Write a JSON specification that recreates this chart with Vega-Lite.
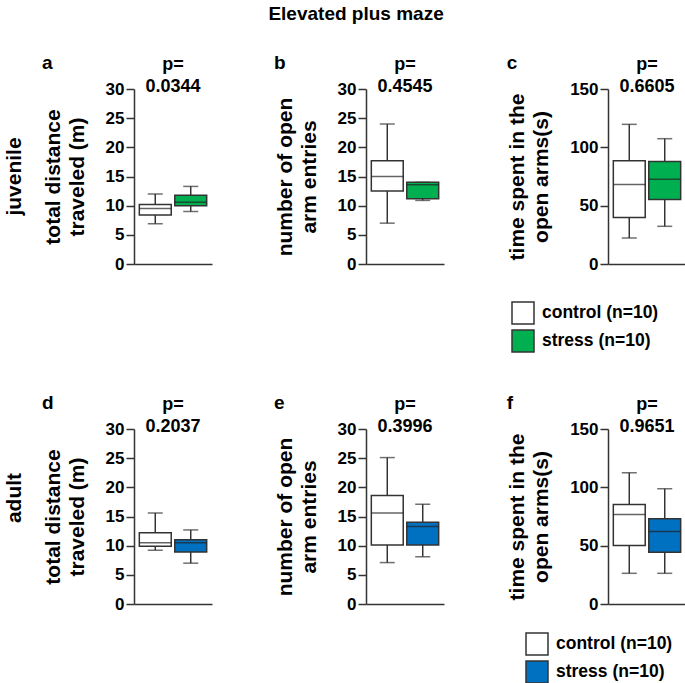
{
  "$schema": "https://vega.github.io/schema/vega-lite/v6.json",
  "padding": {"left": 4, "top": 5, "right": 1, "bottom": 0},
  "datasets": {
    "box": [
      {"panel": "a", "group": "control", "min": 6.9, "q1": 8.4, "median": 9.5, "q3": 10.2, "max": 12.0},
      {"panel": "a", "group": "stress", "min": 9.0, "q1": 10.0, "median": 10.6, "q3": 11.8, "max": 13.3},
      {"panel": "b", "group": "control", "min": 7.0, "q1": 12.5, "median": 15.0, "q3": 17.7, "max": 24.0},
      {"panel": "b", "group": "stress", "min": 10.9, "q1": 11.2, "median": 13.6, "q3": 14.0, "max": 14.0},
      {"panel": "c", "group": "control", "min": 22.3, "q1": 39.8, "median": 68.1, "q3": 88.5, "max": 119.7},
      {"panel": "c", "group": "stress", "min": 32.3, "q1": 55.3, "median": 72.7, "q3": 87.9, "max": 107.4},
      {"panel": "d", "group": "control", "min": 9.2, "q1": 9.9, "median": 10.5, "q3": 12.2, "max": 15.6},
      {"panel": "d", "group": "stress", "min": 7.0, "q1": 8.9, "median": 10.5, "q3": 11.0, "max": 12.7},
      {"panel": "e", "group": "control", "min": 7.1, "q1": 10.1, "median": 15.6, "q3": 18.6, "max": 25.1},
      {"panel": "e", "group": "stress", "min": 8.1, "q1": 10.1, "median": 13.3, "q3": 14.0, "max": 17.1},
      {"panel": "f", "group": "control", "min": 26.3, "q1": 50.1, "median": 76.7, "q3": 85.3, "max": 112.5},
      {"panel": "f", "group": "stress", "min": 26.3, "q1": 44.4, "median": 62.1, "q3": 73.0, "max": 98.8}
    ]
  },
  "title": {"text": "Elevated plus maze", "fontSize": 19, "anchor": "middle", "dx": 11, "offset": 30},
  "resolve": {"scale": {"fill": "independent"}, "legend": {"fill": "independent"}},
  "spacing": 39,
  "vconcat": [
    {
      "title": {"text": "juvenile", "orient": "left", "anchor": "middle", "fontSize": 21, "offset": 17, "dx": 28},
      "resolve": {"scale": {"fill": "independent"}, "legend": {"fill": "independent"}},
      "spacing": 62,
      "hconcat": [
        {
          "title": {"text": "a", "anchor": "start", "frame": "bounds", "fontSize": 19, "offset": -17},
          "resolve": {"scale": {"fill": "independent"}, "legend": {"fill": "independent"}},
          "vconcat": [
            {
              "width": 78, "height": 175,
              "data": {"name": "box"},
              "title": {"text": ["p=", "0.0344"], "frame": "group", "anchor": "middle", "fontSize": 18, "lineHeight": 22, "offset": -16},
              "transform": [{"filter": "datum.panel === 'a'"}],
              "encoding": {"x": {"field": "group", "type": "nominal", "scale": {"domain": ["control", "stress"], "paddingInner": 0.1, "paddingOuter": 0.15}, "axis": {"labels": false, "ticks": false, "title": null}}},
              "layer": [
                {"mark": {"type": "rule", "color": "#333", "strokeWidth": 1.5}, "encoding": {"y": {"field": "min", "type": "quantitative", "scale": {"domain": [0, 30], "nice": false}, "axis": {"values": [0, 5, 10, 15, 20, 25, 30]}, "title": ["total distance", "traveled (m)"]}, "y2": {"field": "max"}}},
                {"mark": {"type": "tick", "color": "#333", "thickness": 1.5, "size": 15}, "encoding": {"y": {"field": "max", "type": "quantitative", "axis": {"values": [0, 5, 10, 15, 20, 25, 30]}, "title": ["total distance", "traveled (m)"]}}},
                {"mark": {"type": "tick", "color": "#333", "thickness": 1.5, "size": 15}, "encoding": {"y": {"field": "min", "type": "quantitative", "axis": {"values": [0, 5, 10, 15, 20, 25, 30]}, "title": ["total distance", "traveled (m)"]}}},
                {"mark": {"type": "bar", "stroke": "#333", "strokeWidth": 1.5}, "encoding": {"y": {"field": "q1", "type": "quantitative", "axis": {"values": [0, 5, 10, 15, 20, 25, 30]}, "title": ["total distance", "traveled (m)"]}, "y2": {"field": "q3"}, "fill": {"field": "group", "type": "nominal", "scale": {"domain": ["control", "stress"], "range": ["#ffffff", "#00B050"]}, "legend": null}}},
                {"mark": {"type": "tick", "color": "#222", "thickness": 1.5, "size": 32}, "encoding": {"y": {"field": "median", "type": "quantitative", "axis": {"values": [0, 5, 10, 15, 20, 25, 30]}, "title": ["total distance", "traveled (m)"]}}}
              ]
            }
          ]
        },
        {
          "title": {"text": "b", "anchor": "start", "frame": "bounds", "fontSize": 19, "offset": -17},
          "resolve": {"scale": {"fill": "independent"}, "legend": {"fill": "independent"}},
          "vconcat": [
            {
              "width": 78, "height": 175,
              "data": {"name": "box"},
              "title": {"text": ["p=", "0.4545"], "frame": "group", "anchor": "middle", "fontSize": 18, "lineHeight": 22, "offset": -16},
              "transform": [{"filter": "datum.panel === 'b'"}],
              "encoding": {"x": {"field": "group", "type": "nominal", "scale": {"domain": ["control", "stress"], "paddingInner": 0.1, "paddingOuter": 0.15}, "axis": {"labels": false, "ticks": false, "title": null}}},
              "layer": [
                {"mark": {"type": "rule", "color": "#333", "strokeWidth": 1.5}, "encoding": {"y": {"field": "min", "type": "quantitative", "scale": {"domain": [0, 30], "nice": false}, "axis": {"values": [0, 5, 10, 15, 20, 25, 30]}, "title": ["number of open", "arm entries"]}, "y2": {"field": "max"}}},
                {"mark": {"type": "tick", "color": "#333", "thickness": 1.5, "size": 15}, "encoding": {"y": {"field": "max", "type": "quantitative", "axis": {"values": [0, 5, 10, 15, 20, 25, 30]}, "title": ["number of open", "arm entries"]}}},
                {"mark": {"type": "tick", "color": "#333", "thickness": 1.5, "size": 15}, "encoding": {"y": {"field": "min", "type": "quantitative", "axis": {"values": [0, 5, 10, 15, 20, 25, 30]}, "title": ["number of open", "arm entries"]}}},
                {"mark": {"type": "bar", "stroke": "#333", "strokeWidth": 1.5}, "encoding": {"y": {"field": "q1", "type": "quantitative", "axis": {"values": [0, 5, 10, 15, 20, 25, 30]}, "title": ["number of open", "arm entries"]}, "y2": {"field": "q3"}, "fill": {"field": "group", "type": "nominal", "scale": {"domain": ["control", "stress"], "range": ["#ffffff", "#00B050"]}, "legend": null}}},
                {"mark": {"type": "tick", "color": "#222", "thickness": 1.5, "size": 32}, "encoding": {"y": {"field": "median", "type": "quantitative", "axis": {"values": [0, 5, 10, 15, 20, 25, 30]}, "title": ["number of open", "arm entries"]}}}
              ]
            }
          ]
        },
        {
          "title": {"text": "c", "anchor": "start", "frame": "bounds", "fontSize": 19, "offset": -17},
          "resolve": {"scale": {"fill": "independent"}, "legend": {"fill": "independent"}},
          "vconcat": [
            {
              "width": 78, "height": 175,
              "data": {"name": "box"},
              "title": {"text": ["p=", "0.6605"], "frame": "group", "anchor": "middle", "fontSize": 18, "lineHeight": 22, "offset": -16},
              "transform": [{"filter": "datum.panel === 'c'"}],
              "encoding": {"x": {"field": "group", "type": "nominal", "scale": {"domain": ["control", "stress"], "paddingInner": 0.1, "paddingOuter": 0.15}, "axis": {"labels": false, "ticks": false, "title": null}}},
              "layer": [
                {"mark": {"type": "rule", "color": "#333", "strokeWidth": 1.5}, "encoding": {"y": {"field": "min", "type": "quantitative", "scale": {"domain": [0, 150], "nice": false}, "axis": {"values": [0, 50, 100, 150]}, "title": ["time spent in the", "open arms(s)"]}, "y2": {"field": "max"}}},
                {"mark": {"type": "tick", "color": "#333", "thickness": 1.5, "size": 15}, "encoding": {"y": {"field": "max", "type": "quantitative", "axis": {"values": [0, 50, 100, 150]}, "title": ["time spent in the", "open arms(s)"]}}},
                {"mark": {"type": "tick", "color": "#333", "thickness": 1.5, "size": 15}, "encoding": {"y": {"field": "min", "type": "quantitative", "axis": {"values": [0, 50, 100, 150]}, "title": ["time spent in the", "open arms(s)"]}}},
                {"mark": {"type": "bar", "stroke": "#333", "strokeWidth": 1.5}, "encoding": {"y": {"field": "q1", "type": "quantitative", "axis": {"values": [0, 50, 100, 150]}, "title": ["time spent in the", "open arms(s)"]}, "y2": {"field": "q3"}, "fill": {"field": "group", "type": "nominal", "scale": {"domain": ["control", "stress"], "range": ["#ffffff", "#00B050"]}, "legend": {"orient": "none", "legendX": -97, "legendY": 212, "title": null, "labelExpr": "datum.label + ' (n=10)'"}}}},
                {"mark": {"type": "tick", "color": "#222", "thickness": 1.5, "size": 32}, "encoding": {"y": {"field": "median", "type": "quantitative", "axis": {"values": [0, 50, 100, 150]}, "title": ["time spent in the", "open arms(s)"]}}}
              ]
            }
          ]
        }
      ]
    },
    {
      "title": {"text": "adult", "orient": "left", "anchor": "middle", "fontSize": 21, "offset": 17, "dx": 42},
      "resolve": {"scale": {"fill": "independent"}, "legend": {"fill": "independent"}},
      "spacing": 62,
      "hconcat": [
        {
          "title": {"text": "d", "anchor": "start", "frame": "bounds", "fontSize": 19, "offset": -17},
          "resolve": {"scale": {"fill": "independent"}, "legend": {"fill": "independent"}},
          "vconcat": [
            {
              "width": 78, "height": 175,
              "data": {"name": "box"},
              "title": {"text": ["p=", "0.2037"], "frame": "group", "anchor": "middle", "fontSize": 18, "lineHeight": 22, "offset": -16},
              "transform": [{"filter": "datum.panel === 'd'"}],
              "encoding": {"x": {"field": "group", "type": "nominal", "scale": {"domain": ["control", "stress"], "paddingInner": 0.1, "paddingOuter": 0.15}, "axis": {"labels": false, "ticks": false, "title": null}}},
              "layer": [
                {"mark": {"type": "rule", "color": "#333", "strokeWidth": 1.5}, "encoding": {"y": {"field": "min", "type": "quantitative", "scale": {"domain": [0, 30], "nice": false}, "axis": {"values": [0, 5, 10, 15, 20, 25, 30]}, "title": ["total distance", "traveled (m)"]}, "y2": {"field": "max"}}},
                {"mark": {"type": "tick", "color": "#333", "thickness": 1.5, "size": 15}, "encoding": {"y": {"field": "max", "type": "quantitative", "axis": {"values": [0, 5, 10, 15, 20, 25, 30]}, "title": ["total distance", "traveled (m)"]}}},
                {"mark": {"type": "tick", "color": "#333", "thickness": 1.5, "size": 15}, "encoding": {"y": {"field": "min", "type": "quantitative", "axis": {"values": [0, 5, 10, 15, 20, 25, 30]}, "title": ["total distance", "traveled (m)"]}}},
                {"mark": {"type": "bar", "stroke": "#333", "strokeWidth": 1.5}, "encoding": {"y": {"field": "q1", "type": "quantitative", "axis": {"values": [0, 5, 10, 15, 20, 25, 30]}, "title": ["total distance", "traveled (m)"]}, "y2": {"field": "q3"}, "fill": {"field": "group", "type": "nominal", "scale": {"domain": ["control", "stress"], "range": ["#ffffff", "#0070C0"]}, "legend": null}}},
                {"mark": {"type": "tick", "color": "#222", "thickness": 1.5, "size": 32}, "encoding": {"y": {"field": "median", "type": "quantitative", "axis": {"values": [0, 5, 10, 15, 20, 25, 30]}, "title": ["total distance", "traveled (m)"]}}}
              ]
            }
          ]
        },
        {
          "title": {"text": "e", "anchor": "start", "frame": "bounds", "fontSize": 19, "offset": -17},
          "resolve": {"scale": {"fill": "independent"}, "legend": {"fill": "independent"}},
          "vconcat": [
            {
              "width": 78, "height": 175,
              "data": {"name": "box"},
              "title": {"text": ["p=", "0.3996"], "frame": "group", "anchor": "middle", "fontSize": 18, "lineHeight": 22, "offset": -16},
              "transform": [{"filter": "datum.panel === 'e'"}],
              "encoding": {"x": {"field": "group", "type": "nominal", "scale": {"domain": ["control", "stress"], "paddingInner": 0.1, "paddingOuter": 0.15}, "axis": {"labels": false, "ticks": false, "title": null}}},
              "layer": [
                {"mark": {"type": "rule", "color": "#333", "strokeWidth": 1.5}, "encoding": {"y": {"field": "min", "type": "quantitative", "scale": {"domain": [0, 30], "nice": false}, "axis": {"values": [0, 5, 10, 15, 20, 25, 30]}, "title": ["number of open", "arm entries"]}, "y2": {"field": "max"}}},
                {"mark": {"type": "tick", "color": "#333", "thickness": 1.5, "size": 15}, "encoding": {"y": {"field": "max", "type": "quantitative", "axis": {"values": [0, 5, 10, 15, 20, 25, 30]}, "title": ["number of open", "arm entries"]}}},
                {"mark": {"type": "tick", "color": "#333", "thickness": 1.5, "size": 15}, "encoding": {"y": {"field": "min", "type": "quantitative", "axis": {"values": [0, 5, 10, 15, 20, 25, 30]}, "title": ["number of open", "arm entries"]}}},
                {"mark": {"type": "bar", "stroke": "#333", "strokeWidth": 1.5}, "encoding": {"y": {"field": "q1", "type": "quantitative", "axis": {"values": [0, 5, 10, 15, 20, 25, 30]}, "title": ["number of open", "arm entries"]}, "y2": {"field": "q3"}, "fill": {"field": "group", "type": "nominal", "scale": {"domain": ["control", "stress"], "range": ["#ffffff", "#0070C0"]}, "legend": null}}},
                {"mark": {"type": "tick", "color": "#222", "thickness": 1.5, "size": 32}, "encoding": {"y": {"field": "median", "type": "quantitative", "axis": {"values": [0, 5, 10, 15, 20, 25, 30]}, "title": ["number of open", "arm entries"]}}}
              ]
            }
          ]
        },
        {
          "title": {"text": "f", "anchor": "start", "frame": "bounds", "fontSize": 19, "offset": -17},
          "resolve": {"scale": {"fill": "independent"}, "legend": {"fill": "independent"}},
          "vconcat": [
            {
              "width": 78, "height": 175,
              "data": {"name": "box"},
              "title": {"text": ["p=", "0.9651"], "frame": "group", "anchor": "middle", "fontSize": 18, "lineHeight": 22, "offset": -16},
              "transform": [{"filter": "datum.panel === 'f'"}],
              "encoding": {"x": {"field": "group", "type": "nominal", "scale": {"domain": ["control", "stress"], "paddingInner": 0.1, "paddingOuter": 0.15}, "axis": {"labels": false, "ticks": false, "title": null}}},
              "layer": [
                {"mark": {"type": "rule", "color": "#333", "strokeWidth": 1.5}, "encoding": {"y": {"field": "min", "type": "quantitative", "scale": {"domain": [0, 150], "nice": false}, "axis": {"values": [0, 50, 100, 150]}, "title": ["time spent in the", "open arms(s)"]}, "y2": {"field": "max"}}},
                {"mark": {"type": "tick", "color": "#333", "thickness": 1.5, "size": 15}, "encoding": {"y": {"field": "max", "type": "quantitative", "axis": {"values": [0, 50, 100, 150]}, "title": ["time spent in the", "open arms(s)"]}}},
                {"mark": {"type": "tick", "color": "#333", "thickness": 1.5, "size": 15}, "encoding": {"y": {"field": "min", "type": "quantitative", "axis": {"values": [0, 50, 100, 150]}, "title": ["time spent in the", "open arms(s)"]}}},
                {"mark": {"type": "bar", "stroke": "#333", "strokeWidth": 1.5}, "encoding": {"y": {"field": "q1", "type": "quantitative", "axis": {"values": [0, 50, 100, 150]}, "title": ["time spent in the", "open arms(s)"]}, "y2": {"field": "q3"}, "fill": {"field": "group", "type": "nominal", "scale": {"domain": ["control", "stress"], "range": ["#ffffff", "#0070C0"]}, "legend": {"orient": "none", "legendX": -83, "legendY": 203, "title": null, "labelExpr": "datum.label + ' (n=10)'"}}}},
                {"mark": {"type": "tick", "color": "#222", "thickness": 1.5, "size": 32}, "encoding": {"y": {"field": "median", "type": "quantitative", "axis": {"values": [0, 50, 100, 150]}, "title": ["time spent in the", "open arms(s)"]}}}
              ]
            }
          ]
        }
      ]
    }
  ],
  "config": {
    "font": "Liberation Sans",
    "view": {"stroke": null},
    "title": {"fontWeight": "bold", "color": "#000000"},
    "axis": {"grid": false, "domainColor": "#333333", "domainWidth": 1.5, "tickColor": "#333333", "tickWidth": 1.5},
    "axisY": {"labelFontSize": 17, "labelFontWeight": "bold", "labelColor": "#000000", "labelPadding": 2, "labelOverlap": false, "tickSize": 8, "titleFontSize": 21, "titleFontWeight": "bold", "titleColor": "#000000", "titleLineHeight": 24, "titlePadding": 18},
    "legend": {"padding": 0, "symbolType": "square", "symbolSize": 484, "symbolStrokeColor": "#333333", "symbolStrokeWidth": 1.5, "labelFontSize": 17.5, "labelFontWeight": "bold", "labelColor": "#000000", "labelOffset": 7, "rowPadding": 0, "labelLimit": 300}
  }
}
